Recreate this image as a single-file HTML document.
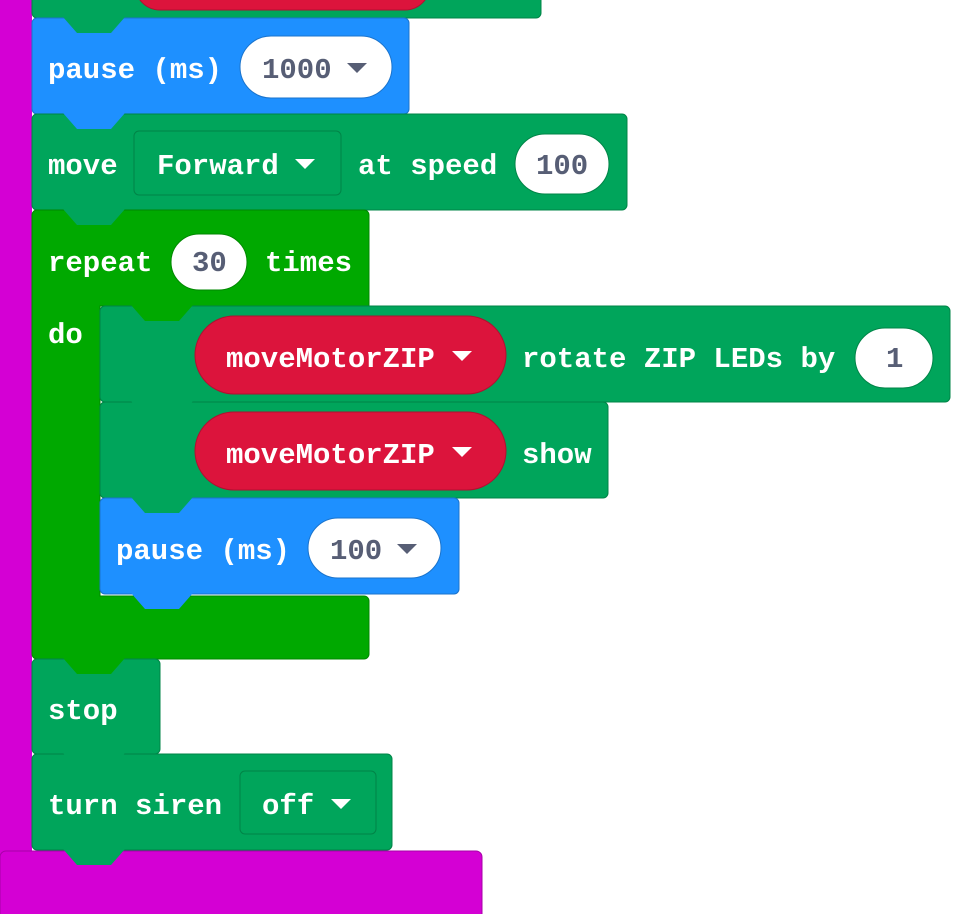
<!DOCTYPE html>
<html><head><meta charset="utf-8"><style>
html,body{margin:0;padding:0;background:#fff;width:959px;height:914px;overflow:hidden}
svg text{font-family:"Liberation Mono","DejaVu Sans Mono",monospace;font-weight:bold;font-size:29px}
.w{fill:#fff}.d{fill:#575e75}
</style></head><body>
<svg width="959" height="914" viewBox="0 0 959 914" xmlns="http://www.w3.org/2000/svg">
<!-- magenta event block -->
<rect x="0" y="-10" width="32" height="924" fill="#d400d4"/>
<rect x="0" y="851" width="482" height="70" rx="6" fill="#d400d4" stroke="#a800a8" stroke-width="1"/>

<!-- top green block -->
<rect x="32" y="-20" width="509" height="38" rx="5" fill="#00a55b" stroke="#008447"/>
<rect x="135" y="-40" width="295" height="50" rx="25" fill="#dc143c" stroke="#b01030"/>

<!-- pause 1000 -->
<rect x="32" y="18" width="377" height="96" rx="5" fill="#1e90ff" stroke="#1a73cc"/>
<text x="48" y="78" class="w">pause (ms)</text>
<rect x="240" y="36" width="152" height="62" rx="31" fill="#fff" stroke="#1a73cc"/>
<text x="262" y="78" class="d">1000</text>
<polygon points="347,63 367,63 357,73" fill="#575e75"/>

<!-- move forward -->
<rect x="32" y="114" width="595" height="96" rx="5" fill="#00a55b" stroke="#008447"/>
<text x="48" y="174" class="w">move</text>
<rect x="134" y="131" width="207" height="64" rx="5" fill="#00a55b" stroke="#008447"/>
<text x="157" y="174" class="w">Forward</text>
<polygon points="295,159 315,159 305,169" fill="#fff"/>
<text x="358" y="174" class="w">at speed</text>
<rect x="515" y="134" width="94" height="60" rx="30" fill="#fff" stroke="#008447"/>
<text x="536" y="174" class="d">100</text>

<!-- repeat C block -->
<path d="M32,215 a5,5 0 0 1 5,-5 H364 a5,5 0 0 1 5,5 V306 H100 V596 H364 a5,5 0 0 1 5,5 V654 a5,5 0 0 1 -5,5 H37 a5,5 0 0 1 -5,-5 Z" fill="#00a900" stroke="#008700"/>
<text x="48" y="271" class="w">repeat</text>
<rect x="171" y="234" width="76" height="56" rx="28" fill="#fff" stroke="#008700"/>
<text x="192" y="271" class="d">30</text>
<text x="265" y="271" class="w">times</text>
<text x="48" y="343" class="w">do</text>

<!-- inner 1 -->
<rect x="100" y="306" width="850" height="96" rx="5" fill="#00a55b" stroke="#008447"/>
<rect x="195" y="316" width="311" height="78" rx="39" fill="#dc143c" stroke="#b01030"/>
<text x="226" y="367" class="w">moveMotorZIP</text>
<polygon points="452,351 472,351 462,361" fill="#fff"/>
<text x="522" y="367" class="w">rotate ZIP LEDs by</text>
<rect x="855" y="328" width="78" height="60" rx="30" fill="#fff" stroke="#008447"/>
<text x="886" y="367" class="d">1</text>

<!-- inner 2 -->
<rect x="100" y="402" width="508" height="96" rx="5" fill="#00a55b" stroke="#008447"/>
<rect x="195" y="412" width="311" height="78" rx="39" fill="#dc143c" stroke="#b01030"/>
<text x="226" y="463" class="w">moveMotorZIP</text>
<polygon points="452,447 472,447 462,457" fill="#fff"/>
<text x="522" y="463" class="w">show</text>

<!-- inner pause -->
<rect x="100" y="498" width="359" height="96" rx="5" fill="#1e90ff" stroke="#1a73cc"/>
<text x="116" y="559" class="w">pause (ms)</text>
<rect x="308" y="518" width="133" height="60" rx="30" fill="#fff" stroke="#1a73cc"/>
<text x="330" y="559" class="d">100</text>
<polygon points="397,544 417,544 407,554" fill="#575e75"/>

<!-- stop -->
<rect x="32" y="659" width="128" height="95" rx="5" fill="#00a55b" stroke="#008447"/>
<text x="48" y="719" class="w">stop</text>

<!-- turn siren -->
<rect x="32" y="754" width="360" height="96" rx="5" fill="#00a55b" stroke="#008447"/>
<text x="48" y="814" class="w">turn siren</text>
<rect x="240" y="771" width="136" height="63" rx="5" fill="#00a55b" stroke="#008447"/>
<text x="262" y="814" class="w">off</text>
<polygon points="331,799 351,799 341,809" fill="#fff"/>

<!-- tabs -->
<g>
<polygon points="63,17 125,17 111,33 77,33" fill="#00a55b"/>
<polygon points="63,113 125,113 111,129 77,129" fill="#1e90ff"/>
<polygon points="63,209 125,209 111,225 77,225" fill="#00a55b"/>
<polygon points="131,305 193,305 179,321 145,321" fill="#00a900"/>
<polygon points="131,401 193,401 179,417 145,417" fill="#00a55b"/>
<polygon points="131,497 193,497 179,513 145,513" fill="#00a55b"/>
<polygon points="131,593 193,593 179,609 145,609" fill="#1e90ff"/>
<polygon points="63,658 125,658 111,674 77,674" fill="#00a900"/>
<polygon points="63,753 125,753 111,769 77,769" fill="#00a55b"/>
<polygon points="63,849 125,849 111,865 77,865" fill="#00a55b"/>
</g>
</svg>
</body></html>
